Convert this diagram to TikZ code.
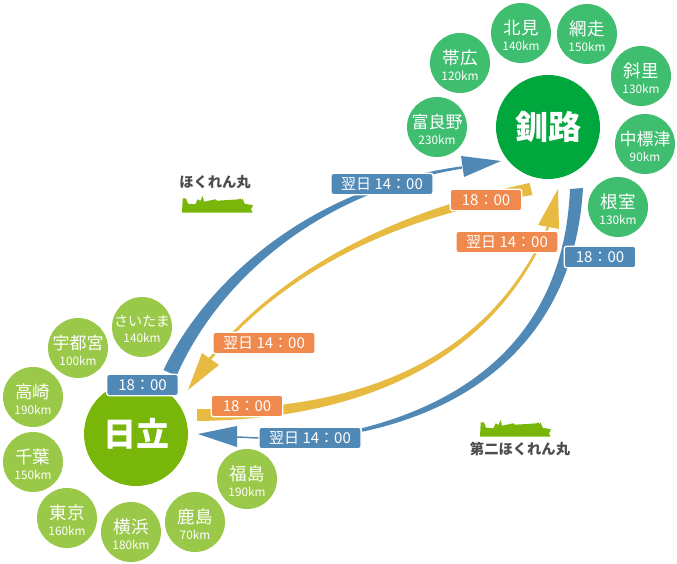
\documentclass[tikz,border=0pt]{standalone}
\usepackage{fontspec}
\setmainfont{Noto Sans CJK JP}
\definecolor{routeblue}{HTML}{5189B6}
\definecolor{routeorange}{HTML}{EF894E}
\definecolor{routeyellow}{HTML}{E7BB42}
\definecolor{hubnorth}{HTML}{00A73C}
\definecolor{spotnorth}{HTML}{40BE70}
\definecolor{hubsouth}{HTML}{78B70A}
\definecolor{spotsouth}{HTML}{9AC848}
\definecolor{shiptext}{HTML}{4D4D4D}
\tikzset{
  x=1pt,y=-1pt,
  spotn/.style={circle,fill=spotnorth,minimum size=60pt,inner sep=0pt},
  spots/.style={spotn,fill=spotsouth},
  spottext/.style={text=white,inner sep=0pt,align=center,yshift=-2pt,font=\fontsize{17.5}{17}\selectfont},
  hubn/.style={circle,fill=hubnorth,text=white,minimum size=104pt,inner sep=0pt,font=\fontsize{33}{36}\selectfont\bfseries},
  hubs/.style={hubn,fill=hubsouth},
  tagbox/.style={draw=white,line width=1.3pt,rounded corners=2.5pt,text=white,inner sep=0pt,minimum height=21.5pt,font=\fontsize{15}{16}\selectfont},
  tagwide/.style={tagbox,minimum width=102pt},
  tagnarrow/.style={tagbox,minimum width=71.5pt},
  shipname/.style={text=shiptext,inner sep=0pt,font=\fontsize{14.3}{16}\selectfont\bfseries},
  shipmark/.pic={\fill[hubsouth] (182,212.7) -- (182.7,198.3) -- (186,198.3) -- (188,203.7) -- (195.3,204.3) -- (197.7,199.3) -- (200.3,201) -- (202.7,196) -- (204,201.7) -- (215.3,199.3) -- (217,200.7) -- (228.7,200) -- (238.7,199.3) -- (240.3,198.3) -- (241.3,200) -- (242.7,198.7) -- (244.7,203.7) -- (253,205.3) -- (251,209.3) -- (252.7,212.7) -- cycle;}
}
\newcommand{\dist}[1]{\\[-1pt]{\fontsize{11.8}{12}\selectfont #1}}
\begin{document}
\begin{tikzpicture}
\useasboundingbox (0,0) rectangle (677,564);
% routes
\fill[routeblue] (163.5,370) .. controls (205,282.8) and (308.6,186.9) .. (462,166.3) -- (462,168.7) .. controls (311.4,193.1) and (215,287.2) .. (176.5,376) -- cycle;
\fill[routeblue] (461,156) -- (501,161) -- (464,177) -- cycle;
\fill[routeyellow] (529.5,183) .. controls (429.1,204.6) and (299.2,248.6) .. (209,358) -- (211,360) .. controls (300.8,251.4) and (430.9,211.4) .. (532.5,195) -- cycle;
\fill[routeyellow] (202,353) -- (219,365) -- (188,390) -- cycle;
\fill[routeyellow] (197,409) .. controls (320,410.3) and (478.6,383.2) .. (547,226.5) -- (549,227.5) .. controls (481.4,386.8) and (320,419.7) .. (197,421) -- cycle;
\fill[routeyellow] (538,225) -- (558,189) -- (559,229) -- cycle;
\fill[routeblue] (570,189) .. controls (564.5,320) and (486.5,396.5) .. (361.6,428.3) -- (362.4,431.7) .. controls (493.5,403.5) and (575.5,320) .. (583,188) -- cycle;
\fill[routeblue] (237,426) -- (198,434) -- (237,447) -- cycle;
% hubs
\node[hubn] (kushiro) at (548,127) {釧路};
\node[hubs] (hitachi) at (136,434) {日立};
% destinations
\node[spotn,label={[spottext]center:北見\dist{140km}}] (kitami) at (521,33) {};
\node[spotn,label={[spottext]center:網走\dist{150km}}] (abashiri) at (587,34) {};
\node[spotn,label={[spottext]center:帯広\dist{120km}}] (obihiro) at (460,63) {};
\node[spotn,label={[spottext]center:斜里\dist{130km}}] (shari) at (641,76) {};
\node[spotn,label={[spottext]center:{\fontsize{17}{17}\selectfont 富良野}\dist{230km}}] (furano) at (437,127) {};
\node[spotn,label={[spottext]center:{\fontsize{17}{17}\selectfont 中標津}\dist{90km}}] (nakashibetsu) at (645,144) {};
\node[spotn,label={[spottext]center:根室\dist{130km}}] (nemuro) at (618,207) {};
\node[spots,label={[spottext]center:{\fontsize{14}{14}\selectfont さいたま}\dist{140km}}] (saitama) at (142,327) {};
\node[spots,label={[spottext]center:{\fontsize{17}{17}\selectfont 宇都宮}\dist{100km}}] (utsunomiya) at (78,348) {};
\node[spots,label={[spottext]center:高崎\dist{190km}}] (takasaki) at (33,397) {};
\node[spots,label={[spottext]center:千葉\dist{150km}}] (chiba) at (33,462) {};
\node[spots,label={[spottext]center:東京\dist{160km}}] (tokyo) at (67,518) {};
\node[spots,label={[spottext]center:横浜\dist{180km}}] (yokohama) at (131,532) {};
\node[spots,label={[spottext]center:鹿島\dist{70km}}] (kashima) at (195,522) {};
\node[spots,label={[spottext]center:福島\dist{190km}}] (fukushima) at (247,479) {};
% time tags
\node[tagwide,fill=routeblue] (tagA) at (382,184) {翌日 14：00};
\node[tagnarrow,fill=routeorange] (tagB) at (486,200) {18：00};
\node[tagwide,fill=routeorange] (tagC) at (507,242) {翌日 14：00};
\node[tagnarrow,fill=routeblue] (tagD) at (600,257) {18：00};
\node[tagwide,fill=routeorange] (tagE) at (264,343) {翌日 14：00};
\node[tagnarrow,fill=routeblue] (tagF) at (142.5,385) {18：00};
\node[tagnarrow,fill=routeorange] (tagG) at (247,406) {18：00};
\node[tagwide,fill=routeblue] (tagH) at (310,438) {翌日 14：00};
\draw[routeblue,line width=1.5pt] (tagH.west) -- (237,437);
% ships
\node[shipname] (shipA) at (215,182) {ほくれん丸};
\pic at (0,0) {shipmark};
\node[shipname] (shipB) at (520,449) {第二ほくれん丸};
\pic at (298,224) {shipmark};
\end{tikzpicture}
\end{document}
